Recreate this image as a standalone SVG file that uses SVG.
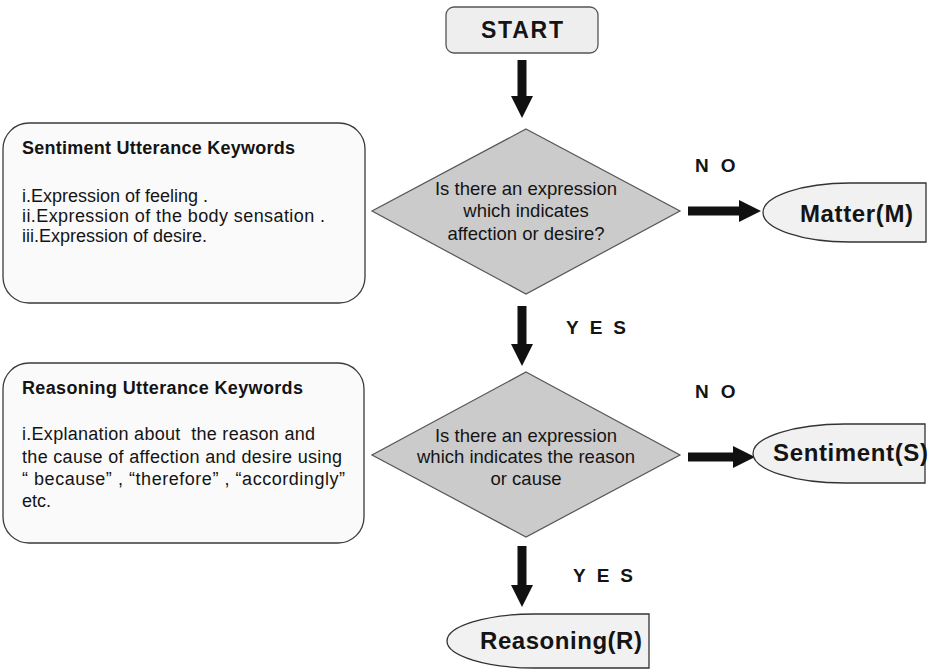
<svg xmlns="http://www.w3.org/2000/svg" width="932" height="672" viewBox="0 0 932 672">
<defs>
<style>
.bg{fill:#ffffff}
.box{fill:#fafafa;stroke:#3a3a3a;stroke-width:1.3}
.start{fill:#eeeeee;stroke:#555555;stroke-width:1.3}
.dia{fill:#cbcbcb;stroke:#555555;stroke-width:1.2}
.term{fill:#f1f1f1;stroke:#333333;stroke-width:1.3}
.conn{stroke:#111111;stroke-width:9;fill:none}
text{font-family:"Liberation Sans",Arial,sans-serif;fill:#141414}
.title{font-size:18px;font-weight:bold}
.body{font-size:18px}
.q{font-size:18.5px;text-anchor:middle}
.tt{font-size:24px;font-weight:bold}
.lbl{font-size:19px;font-weight:bold}
</style>
<marker id="ah" markerUnits="userSpaceOnUse" markerWidth="22" markerHeight="22" viewBox="0 0 22 22" refX="2" refY="11" orient="auto">
<path d="M0,0 L22,11 L0,22 Z" fill="#111111"/>
</marker>
</defs>
<rect class="bg" x="0" y="0" width="932" height="672"/>

<g id="connectors">
<line class="conn" x1="522" y1="60" x2="522" y2="98" marker-end="url(#ah)"/>
<line class="conn" x1="522" y1="306" x2="522" y2="346" marker-end="url(#ah)"/>
<line class="conn" x1="522" y1="546" x2="522" y2="587" marker-end="url(#ah)"/>
<line class="conn" x1="688" y1="211" x2="741" y2="211" marker-end="url(#ah)"/>
<line class="conn" x1="688" y1="457" x2="735" y2="457" marker-end="url(#ah)"/>
<text class="lbl" x="695" y="172" letter-spacing="12">NO</text>
<text class="lbl" x="566" y="334" letter-spacing="11">YES</text>
<text class="lbl" x="695" y="398" letter-spacing="12">NO</text>
<text class="lbl" x="573" y="582" letter-spacing="11">YES</text>
</g>

<g id="start">
<rect class="start" x="446" y="7" width="152" height="46" rx="8"/>
<text x="522" y="38" font-size="23" font-weight="bold" text-anchor="middle" textLength="82">START</text>
</g>

<g id="sentiment-keywords">
<rect class="box" x="3" y="123" width="362" height="180" rx="26"/>
<text class="title" x="22" y="154" textLength="273">Sentiment Utterance Keywords</text>
<text class="body" x="22" y="202">i.Expression of feeling .</text>
<text class="body" x="22" y="222" textLength="303">ii.Expression of the body sensation .</text>
<text class="body" x="22" y="242">iii.Expression of desire.</text>
</g>

<g id="decision1">
<polygon class="dia" points="526,129 680,211 526,294 372,211"/>
<text class="q" x="526" y="195">Is there an expression</text>
<text class="q" x="526" y="217">which indicates</text>
<text class="q" x="526" y="240">affection or desire?</text>
</g>

<g id="matter">
<path class="term" d="M926,183 L850,183 A87,29.5 0 0 0 850,242 L926,242 Z"/>
<text class="tt" x="800" y="222" textLength="113">Matter(M)</text>
</g>

<g id="reasoning-keywords">
<rect class="box" x="3" y="363" width="361" height="180" rx="26"/>
<text class="title" x="22" y="394" textLength="281">Reasoning Utterance Keywords</text>
<text class="body" x="22" y="440" textLength="293" xml:space="preserve">i.Explanation about  the reason and</text>
<text class="body" x="22" y="463" textLength="320">the cause of affection and desire using</text>
<text class="body" x="22" y="485" textLength="323">“ because” , “therefore” , “accordingly”</text>
<text class="body" x="22" y="507">etc.</text>
</g>

<g id="decision2">
<polygon class="dia" points="526,372 680,455 526,537 372,455"/>
<text class="q" x="526" y="442">Is there an expression</text>
<text class="q" x="526" y="463">which indicates the reason</text>
<text class="q" x="526" y="485">or cause</text>
</g>

<g id="sentiment">
<path class="term" d="M925,424 L845,424 A92,29.5 0 0 0 845,483 L925,483 Z"/>
<text class="tt" x="773" y="461" textLength="155">Sentiment(S)</text>
</g>

<g id="reasoning">
<path class="term" d="M649,614 L535,614 A88,27 0 0 0 535,668 L649,668 Z"/>
<text class="tt" x="480" y="649" textLength="162">Reasoning(R)</text>
</g>
</svg>
